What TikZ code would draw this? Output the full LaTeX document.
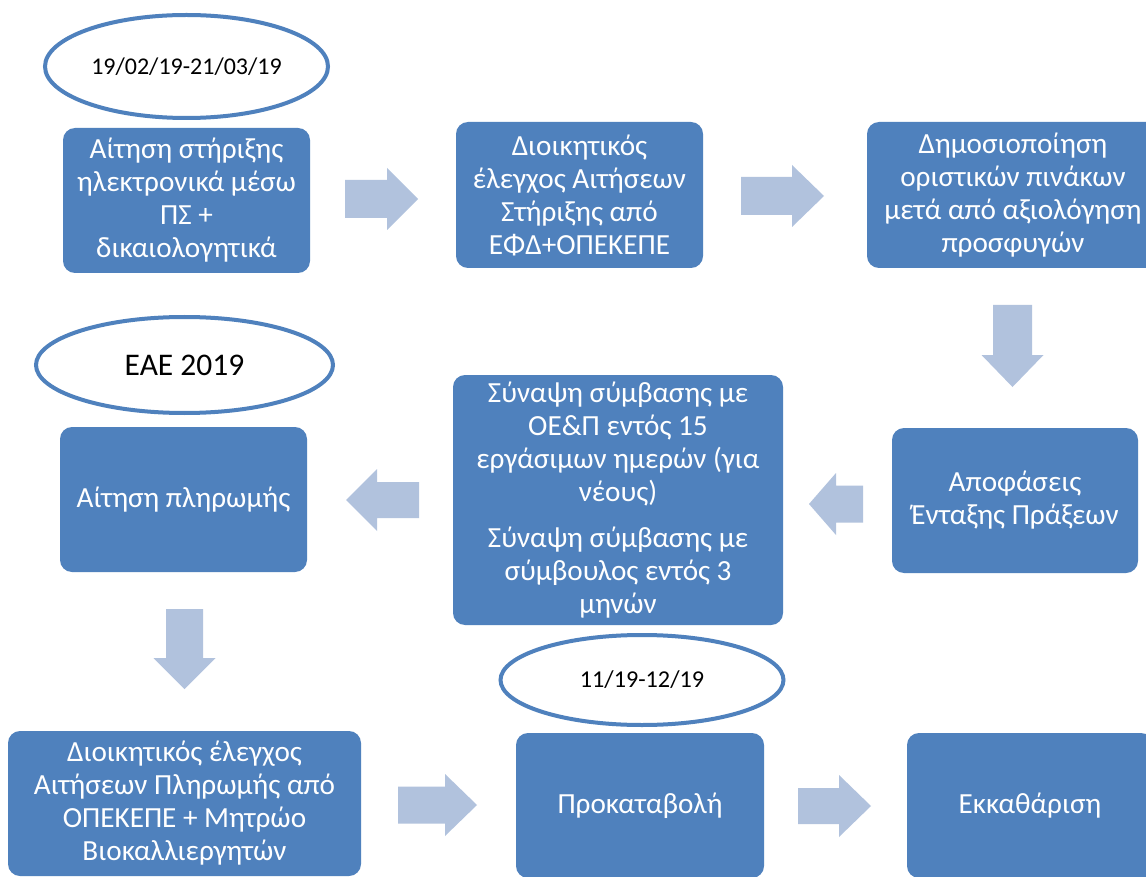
\documentclass[tikz,border=0pt]{standalone}
\usepackage{fontspec}
\setmainfont{Carlito}
\usetikzlibrary{shapes.geometric}
\definecolor{boxc}{HTML}{4F81BD}
\definecolor{arrc}{HTML}{B1C2DD}
\definecolor{ellc}{HTML}{4F81BD}
\tikzset{
  stepbox/.style={fill=boxc, rounded corners=12pt, text=white, align=center,
    inner sep=0pt, font=\fontsize{29.2}{33}\selectfont},
  datebox/.style={ellipse, draw=ellc, line width=4pt, fill=white, inner sep=0pt,
    text=black, align=center},
  blockarrow/.style={fill=arrc},
}
% tail x, tail y, rotation, length, head length, shaft half-width
\newcommand\blkarrow[6]{%
  \fill[blockarrow,shift={(#1,#2)},rotate=#3]
    (0,-#6) -- ({#4-#5},-#6) -- ({#4-#5},-31) -- (#4,0) -- ({#4-#5},31)
    -- ({#4-#5},#6) -- (0,#6) -- cycle;}
\begin{document}
\begin{tikzpicture}[x=1pt,y=-1pt]
\useasboundingbox (0,0) rectangle (1146,877);
\fill[white] (0,0) rectangle (1146,877);

% ellipses
\node[datebox, minimum width=283pt, minimum height=103pt,
  font=\fontsize{24}{28}\selectfont] (e1) at (186.5,66.5) {19/02/19-21/03/19};
\node[datebox, minimum width=297pt, minimum height=96pt,
  font=\fontsize{31.5}{36}\selectfont] (e2) at (184.5,365) {ΕΑΕ 2019};
\node[datebox, minimum width=283pt, minimum height=90pt,
  font=\fontsize{24.2}{28}\selectfont] (e3) at (642,680) {11/19-12/19};

% boxes
\node[stepbox, minimum width=247pt, minimum height=145pt] (a) at (186.5,200.5)
  {Αίτηση στήριξης\\ ηλεκτρονικά μέσω\\ ΠΣ +\\ δικαιολογητικά};
\node[stepbox, minimum width=247pt, minimum height=146pt] (b) at (579.5,195)
  {Διοικητικός\\ έλεγχος Αιτήσεων\\ Στήριξης από\\ ΕΦΔ+ΟΠΕΚΕΠΕ};
\node[stepbox, minimum width=292pt, minimum height=146pt] (c) at (1013,195)
  {Δημοσιοποίηση\\ οριστικών πινάκων\\ μετά από αξιολόγηση\\ προσφυγών};
\node[stepbox, minimum width=246pt, minimum height=145pt] (d) at (1015,500.5)
  {Αποφάσεις\\ Ένταξης Πράξεων};
\node[stepbox, minimum width=330pt, minimum height=250pt] (e) at (618,500)
  {Σύναψη σύμβασης με\\ ΟΕ\&Π εντός 15\\ εργάσιμων ημερών (για\\ νέους)\\[13pt]
   Σύναψη σύμβασης με\\ σύμβουλος εντός 3\\ μηνών};
\node[stepbox, minimum width=247pt, minimum height=145pt] (f) at (183.5,499.5)
  {Αίτηση πληρωμής};
\node[stepbox, minimum width=353pt, minimum height=145pt] (g) at (184.5,803.5)
  {Διοικητικός έλεγχος\\ Αιτήσεων Πληρωμής από\\ ΟΠΕΚΕΠΕ + Μητρώο\\ Βιοκαλλιεργητών};
\node[stepbox, minimum width=248pt, minimum height=145pt] (h) at (640,805.5)
  {Προκαταβολή};
\node[stepbox, minimum width=246pt, minimum height=145pt] (i) at (1030,805.5)
  {Εκκαθάριση};

% block arrows
\blkarrow{345}{199}{0}{73}{31}{19}
\blkarrow{741}{196}{0}{83}{32}{19}
\blkarrow{1012.5}{305}{-90}{82}{32}{19.5}
\blkarrow{863}{504}{180}{54}{27}{18.5}
\blkarrow{419}{500}{180}{73}{31}{18}
\blkarrow{184.5}{609}{-90}{80}{31}{18.5}
\blkarrow{398}{805}{0}{79}{32}{18.5}
\blkarrow{798}{806}{0}{73}{32}{18}
\end{tikzpicture}
\end{document}
